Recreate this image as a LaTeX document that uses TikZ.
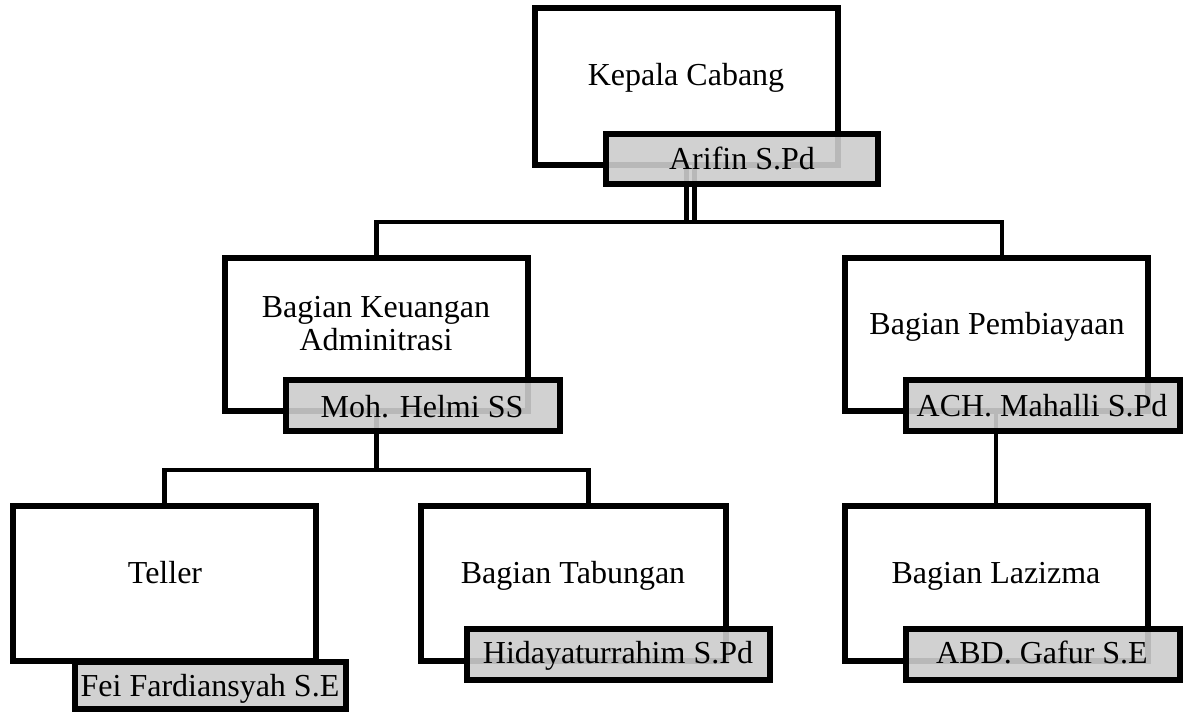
\documentclass[tikz,border=0pt]{standalone}
\usepackage{fontspec}
\setmainfont{Liberation Serif}
\begin{document}
\begin{tikzpicture}[x=1pt,y=-1pt,
  unit/.style={draw=black,line width=6pt,fill=white,inner sep=0pt,outer sep=0pt},
  namebox/.style={draw=black,line width=6pt,fill=black!20,fill opacity=0.9,draw opacity=1,text opacity=1,inner sep=0pt,outer sep=0pt},
  lbl/.style={inner sep=0pt,anchor=base,font=\fontsize{32}{36}\selectfont},
  conn/.style={draw=black,line width=4.5pt},
  dconn/.style={draw=black,line width=5pt,double=white,double distance=3pt}]
\useasboundingbox (0,0) rectangle (1189,712);
% unit boxes
\node[unit,minimum width=303.5pt,minimum height=157pt] (kepala) at (686.25,86) {};
\node[unit,minimum width=303pt,minimum height=153.5pt] (keu) at (376.5,334.25) {};
\node[unit,minimum width=303pt,minimum height=153.5pt] (pemb) at (996.5,334.25) {};
\node[unit,minimum width=303pt,minimum height=155pt] (teller) at (164.5,583.5) {};
\node[unit,minimum width=304.5pt,minimum height=155pt] (tab) at (573.25,583.5) {};
\node[unit,minimum width=303.5pt,minimum height=155pt] (laz) at (996.25,583.5) {};
% connectors
\coordinate (bus1) at (690,222);
\coordinate (bus2) at (376.5,470);
\draw[dconn] ([xshift=4pt]kepala.south) -- ([xshift=4pt]kepala.south |- bus1);
\draw[conn] ([xshift=5.5pt]pemb.north) |- (bus1) -| (keu.north);
\draw[conn] (keu.south) -- (bus2);
\draw[conn] (teller.north) |- (bus2) -| ([xshift=15pt]tab.north);
\draw[conn] ([xshift=-0.5pt]pemb.south) -- ([xshift=-0.25pt]laz.north);
% name boxes
\node[namebox,minimum width=272pt,minimum height=50pt] (arifin) at (741.5,159) {};
\node[namebox,minimum width=274pt,minimum height=51pt] (helmi) at (422.5,405.5) {};
\node[namebox,minimum width=274pt,minimum height=51pt] (ach) at (1042.5,405.5) {};
\node[namebox,minimum width=271.5pt,minimum height=47.5pt] (fei) at (210.25,685.25) {};
\node[namebox,minimum width=303pt,minimum height=51pt] (hid) at (618.5,654.5) {};
\node[namebox,minimum width=274pt,minimum height=51pt] (abd) at (1042.5,654.5) {};
% texts
\node[lbl] (tkepala) at (686,85) {Kepala Cabang};
\node[lbl] (tarifin) at (742,169) {Arifin S.Pd};
\node[lbl] (tkeu1) at (376,317) {Bagian Keuangan};
\node[lbl] (tkeu2) at (376,350) {Adminitrasi};
\node[lbl] (thelmi) at (422,417) {Moh. Helmi SS};
\node[lbl] (tpemb) at (997,334) {Bagian Pembiayaan};
\node[lbl] (tach) at (1042,416) {ACH. Mahalli S.Pd};
\node[lbl] (tteller) at (165,583) {Teller};
\node[lbl] (tfei) at (210,696) {Fei Fardiansyah S.E};
\node[lbl] (ttab) at (573,583) {Bagian Tabungan};
\node[lbl] (thid) at (618,663) {Hidayaturrahim S.Pd};
\node[lbl] (tlaz) at (996,583) {Bagian Lazizma};
\node[lbl] (tabd) at (1042,663) {ABD. Gafur S.E};
\end{tikzpicture}
\end{document}
